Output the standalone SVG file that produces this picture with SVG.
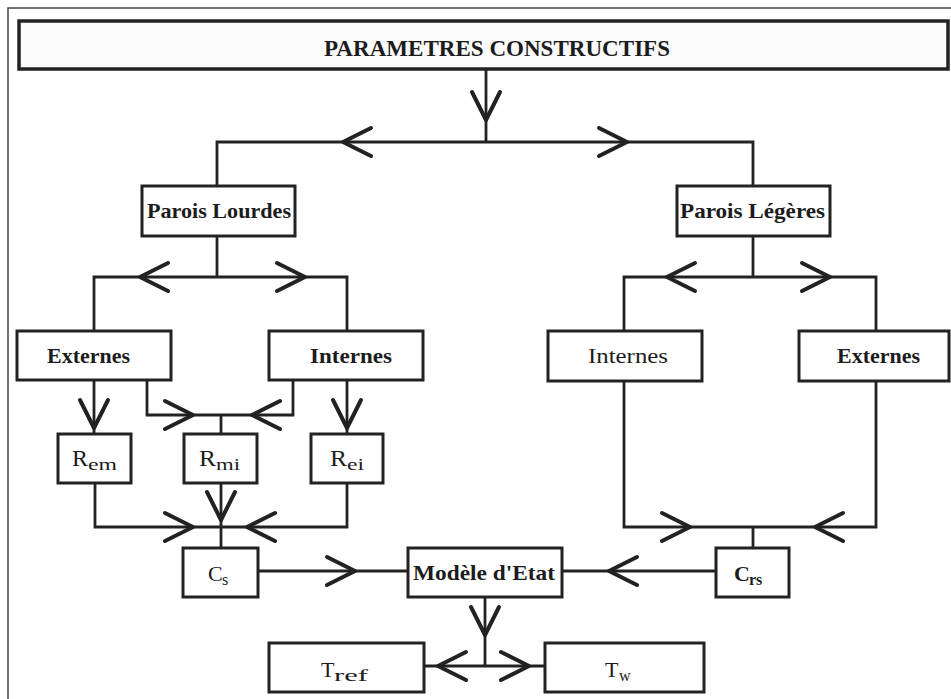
<svg xmlns="http://www.w3.org/2000/svg" width="951" height="699" viewBox="0 0 951 699">
<style>
  .frame{fill:none;stroke:#444;stroke-width:1.5}
  .box{fill:#fff;stroke:#222;stroke-width:3}
  .tbox{fill:#fbfbfc;stroke:#222;stroke-width:3.5}
  .ln{fill:none;stroke:#222;stroke-width:2.8}
  .ah{fill:none;stroke:#222;stroke-width:4;stroke-linecap:round;stroke-linejoin:round}
  text{font-family:"Liberation Serif","Times New Roman",serif;fill:#1c1c1c}
  .b{font-weight:bold}
  .lbl{font-size:21px}
  .sub{font-size:16px}
</style>
<defs>
  <path id="ah" class="ah" d="M-28,-14 L0,0 L-28,14"/>
</defs>
<rect width="951" height="699" fill="#fff"/>
<path class="frame" d="M8,699 L8,8 L951,8"/>

<g id="connectors">
  <path class="ln" d="M486,69 L486,142"/>
  <use href="#ah" transform="translate(486,120) rotate(90)"/>
  <path class="ln" d="M217,186 L217,142 L753,142 L753,186"/>
  <use href="#ah" transform="translate(343,142) rotate(180)"/>
  <use href="#ah" transform="translate(627,142)"/>
  <path class="ln" d="M217,236 L217,277"/>
  <path class="ln" d="M94,331 L94,277 L347,277 L347,331"/>
  <use href="#ah" transform="translate(140,277) rotate(180)"/>
  <use href="#ah" transform="translate(305,277)"/>
  <path class="ln" d="M753,236 L753,277"/>
  <path class="ln" d="M624,331 L624,277 L876,277 L876,331"/>
  <use href="#ah" transform="translate(667,277) rotate(180)"/>
  <use href="#ah" transform="translate(830,277)"/>
  <path class="ln" d="M94,380 L94,434"/>
  <use href="#ah" transform="translate(94,428) rotate(90)"/>
  <path class="ln" d="M347,380 L347,434"/>
  <use href="#ah" transform="translate(347,428) rotate(90)"/>
  <path class="ln" d="M147,380 L147,415 L293,415 L293,380"/>
  <path class="ln" d="M221,415 L221,434"/>
  <use href="#ah" transform="translate(193,415)"/>
  <use href="#ah" transform="translate(252,415) rotate(180)"/>
  <path class="ln" d="M95,483 L95,527 L347,527 L347,483"/>
  <path class="ln" d="M221,483 L221,548"/>
  <use href="#ah" transform="translate(221,520) rotate(90)"/>
  <use href="#ah" transform="translate(193,527)"/>
  <use href="#ah" transform="translate(247,527) rotate(180)"/>
  <path class="ln" d="M624,381 L624,527 L876,527 L876,381"/>
  <path class="ln" d="M753,527 L753,548"/>
  <use href="#ah" transform="translate(690,527)"/>
  <use href="#ah" transform="translate(815,527) rotate(180)"/>
  <path class="ln" d="M258,571 L408,571"/>
  <use href="#ah" transform="translate(355,571)"/>
  <path class="ln" d="M562,571 L716,571"/>
  <use href="#ah" transform="translate(609,571) rotate(180)"/>
  <path class="ln" d="M485,597 L485,666"/>
  <use href="#ah" transform="translate(485,635) rotate(90)"/>
  <path class="ln" d="M424,666 L545,666"/>
  <use href="#ah" transform="translate(438,666) rotate(180)"/>
  <use href="#ah" transform="translate(529,666)"/>
</g>

<g id="n-title">
  <rect class="tbox" x="19" y="21" width="929" height="48"/>
  <text class="b" x="324" y="56" font-size="23" textLength="346" lengthAdjust="spacingAndGlyphs">PARAMETRES CONSTRUCTIFS</text>
</g>
<g id="n-parois-lourdes">
  <rect class="box" x="142" y="186" width="153" height="50"/>
  <text class="b lbl" x="147" y="218" textLength="144" lengthAdjust="spacingAndGlyphs">Parois Lourdes</text>
</g>
<g id="n-parois-legeres">
  <rect class="box" x="677" y="186" width="153" height="50"/>
  <text class="b lbl" x="680" y="218" textLength="145" lengthAdjust="spacingAndGlyphs">Parois Légères</text>
</g>
<g id="n-externes-l">
  <rect class="box" x="17" y="331" width="154" height="49"/>
  <text class="b lbl" x="47" y="363" textLength="83" lengthAdjust="spacingAndGlyphs">Externes</text>
</g>
<g id="n-internes-l">
  <rect class="box" x="269" y="331" width="154" height="49"/>
  <text class="b lbl" x="310" y="363" textLength="82" lengthAdjust="spacingAndGlyphs">Internes</text>
</g>
<g id="n-internes-r">
  <rect class="box" x="548" y="331" width="154" height="50"/>
  <text class="lbl" x="588" y="363" textLength="80" lengthAdjust="spacingAndGlyphs">Internes</text>
</g>
<g id="n-externes-r">
  <rect class="box" x="799" y="331" width="150" height="50"/>
  <text class="b lbl" x="837" y="363" textLength="83" lengthAdjust="spacingAndGlyphs">Externes</text>
</g>
<g id="n-rem">
  <rect class="box" x="58" y="434" width="73" height="49"/>
  <text font-size="23"><tspan x="72" y="466" textLength="16" lengthAdjust="spacingAndGlyphs">R</tspan><tspan class="sub" x="88" y="470" textLength="29" lengthAdjust="spacingAndGlyphs">em</tspan></text>
</g>
<g id="n-rmi">
  <rect class="box" x="184" y="434" width="73" height="49"/>
  <text font-size="23"><tspan x="199" y="466" textLength="17" lengthAdjust="spacingAndGlyphs">R</tspan><tspan class="sub" x="216" y="470" textLength="24" lengthAdjust="spacingAndGlyphs">mi</tspan></text>
</g>
<g id="n-rei">
  <rect class="box" x="311" y="434" width="72" height="49"/>
  <text font-size="23"><tspan x="330" y="466" textLength="17" lengthAdjust="spacingAndGlyphs">R</tspan><tspan class="sub" x="347" y="470" textLength="17" lengthAdjust="spacingAndGlyphs">ei</tspan></text>
</g>
<g id="n-cs">
  <rect class="box" x="183" y="548" width="75" height="49"/>
  <text font-size="22"><tspan x="208" y="581">C</tspan><tspan class="sub" x="222" y="585">s</tspan></text>
</g>
<g id="n-modele">
  <rect class="box" x="408" y="548" width="154" height="49"/>
  <text class="b lbl" x="413" y="580" textLength="142" lengthAdjust="spacingAndGlyphs">Modèle d'Etat</text>
</g>
<g id="n-crs">
  <rect class="box" x="716" y="548" width="73" height="49"/>
  <text class="b" font-size="22"><tspan x="734" y="581">C</tspan><tspan class="sub" x="749" y="585">rs</tspan></text>
</g>
<g id="n-tref">
  <rect class="box" x="269" y="643" width="155" height="49"/>
  <text font-size="22"><tspan x="321" y="677">T</tspan><tspan class="sub" x="334" y="681" textLength="34" lengthAdjust="spacingAndGlyphs">ref</tspan></text>
</g>
<g id="n-tw">
  <rect class="box" x="545" y="643" width="159" height="49"/>
  <text font-size="22"><tspan x="605" y="677">T</tspan><tspan class="sub" x="619" y="681">w</tspan></text>
</g>
</svg>
